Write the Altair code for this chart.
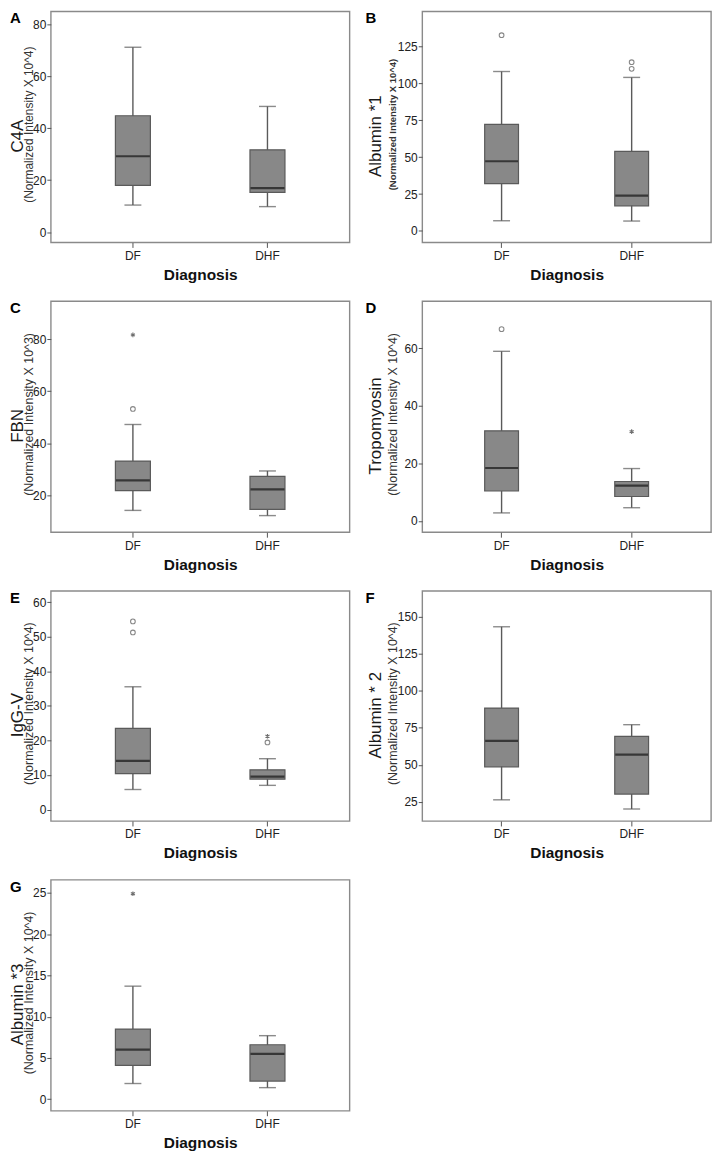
import altair as alt
import pandas as pd

FONT = "Liberation Sans"

# ---------------- data ----------------
groups = ["DF", "DHF"]
letters = ["A", "B", "C", "D", "E", "F", "G"]
protein_names = ["C4A", "Albumin *1", "FBN", "Tropomyosin", "IgG-V", "Albumin * 2", "Albumin *3"]
unit_labels = [
    "(Normalized Intensity X 10^4)",
    "(Normalized Intensity X 10^4)",
    "(Normalized Intensity X 10^3)",
    "(Normalized Intensity X 10^4)",
    "(Normalized Intensity X 10^4)",
    "(Normalized Intensity X 10^4)",
    "(Normalized Intensity X 10^4)",
]

# box statistics, per panel: [DF, DHF]
whisker_low = [[10.4, 9.8], [6.9, 6.7], [14.1, 12.1], [2.8, 4.6], [5.8, 7.0], [26.3, 20.1], [1.9, 1.4]]
quartile_1 = [[18.0, 15.3], [32.0, 17.0], [21.7, 14.5], [10.4, 8.5], [10.4, 8.8], [48.6, 30.2], [4.1, 2.2]]
medians = [[29.2, 16.9], [47.2, 23.9], [25.7, 22.2], [18.4, 12.3], [14.1, 9.5], [66.1, 56.9], [6.0, 5.5]]
quartile_3 = [[44.8, 31.7], [72.2, 53.9], [33.1, 27.2], [31.3, 13.7], [23.5, 11.5], [88.3, 69.2], [8.5, 6.6]]
whisker_high = [[71.2, 48.4], [108.0, 104.0], [47.2, 29.3], [58.9, 18.2], [35.5, 14.7], [143.3, 77.1], [13.7, 7.7]]

circle_outliers = [
    [],
    [("DF", 132.6), ("DHF", 114.3), ("DHF", 109.8)],
    [("DF", 53.2)],
    [("DF", 66.6)],
    [("DF", 54.4), ("DF", 51.2), ("DHF", 19.4)],
    [],
    [],
]
star_outliers = [
    [],
    [],
    [("DF", 81.7)],
    [("DHF", 31.0)],
    [("DHF", 21.2)],
    [],
    [("DF", 24.9)],
]

y_tick_values = [
    [0, 20, 40, 60, 80],
    [0, 25, 50, 75, 100, 125],
    [20, 40, 60, 80],
    [0, 20, 40, 60],
    [0, 10, 20, 30, 40, 50, 60],
    [25, 50, 75, 100, 125, 150],
    [0, 5, 10, 15, 20, 25],
]
y_domains = [
    [-4, 85],
    [-7.8, 148.7],
    [5.7, 94.7],
    [-3.9, 76.3],
    [-3.3, 63.2],
    [12, 167.5],
    [-1.4, 26.6],
]

# ---------------- layout / style ----------------
column_of = [0, 1, 0, 1, 0, 1, 0]
col_width = [300, 290]
panel_height = [232, 232, 232, 232, 231, 231, 232]
letter_x = [-41, -57]
title_x = [-33, -46]
sub_x = [-22, -29]
sub_size = [12, 9.5, 12.5, 12.5, 12.5, 12.5, 12.5]
sub_weight = ["normal", "bold", "normal", "normal", "normal", "normal", "normal"]

BOX_FILL = "#888888"
LINE = "#5a5a5a"
ASTERISK = "M0,-1L0,1M-0.87,-0.5L0.87,0.5M-0.87,0.5L0.87,-0.5"


def panel(i):
    c = column_of[i]
    w = col_width[c]
    h = panel_height[i]
    df = pd.DataFrame({
        "group": groups,
        "lo": whisker_low[i],
        "q1": quartile_1[i],
        "med": medians[i],
        "q3": quartile_3[i],
        "hi": whisker_high[i],
    })
    x_enc = alt.X(
        "group:N",
        sort=groups,
        scale=alt.Scale(paddingInner=0.74, paddingOuter=0.48),
        axis=alt.Axis(title="Diagnosis", labelAngle=0),
    )
    y_scale = alt.Scale(domain=y_domains[i], nice=False, zero=False)
    y_axis = alt.Axis(values=y_tick_values[i], title=None, grid=False)

    bw = w / 2.22 * 0.26

    whisk = alt.Chart(df).mark_rule(color=LINE, strokeWidth=1.4).encode(
        x=x_enc, y=alt.Y("lo:Q", scale=y_scale, axis=y_axis), y2="hi:Q"
    )
    box = alt.Chart(df).mark_bar(fill=BOX_FILL, stroke=LINE, strokeWidth=1.2).encode(
        x=x_enc, y=alt.Y("q1:Q", scale=y_scale, axis=y_axis), y2="q3:Q"
    )
    cap_lo = alt.Chart(df).mark_tick(orient="horizontal", size=17, thickness=1.4, color=LINE).encode(
        x=x_enc, y=alt.Y("lo:Q", scale=y_scale, axis=y_axis)
    )
    cap_hi = alt.Chart(df).mark_tick(orient="horizontal", size=17, thickness=1.4, color=LINE).encode(
        x=x_enc, y=alt.Y("hi:Q", scale=y_scale, axis=y_axis)
    )
    med = alt.Chart(df).mark_tick(orient="horizontal", size=bw - 1, thickness=2.2, color="#151515").encode(
        x=x_enc, y=alt.Y("med:Q", scale=y_scale, axis=y_axis)
    )
    layers = [whisk, box, cap_lo, cap_hi, med]

    if circle_outliers[i]:
        cdf = pd.DataFrame(circle_outliers[i], columns=["group", "value"])
        layers.append(
            alt.Chart(cdf).mark_point(shape="circle", filled=False, size=22, color="#555555", strokeWidth=1.1).encode(
                x=x_enc, y=alt.Y("value:Q", scale=y_scale, axis=y_axis)
            )
        )
    if star_outliers[i]:
        sdf = pd.DataFrame(star_outliers[i], columns=["group", "value"])
        layers.append(
            alt.Chart(sdf).mark_point(shape=ASTERISK, filled=False, size=22, color="#333333", strokeWidth=1.1).encode(
                x=x_enc, y=alt.Y("value:Q", scale=y_scale, axis=y_axis)
            )
        )

    letter = alt.Chart(pd.DataFrame({"t": [letters[i]]})).mark_text(
        font=FONT, fontSize=15, fontWeight="bold", align="left", baseline="top", color="#000000"
    ).encode(x=alt.value(letter_x[c]), y=alt.value(0), text="t:N")
    title = alt.Chart(pd.DataFrame({"t": [protein_names[i]]})).mark_text(
        font=FONT, fontSize=17, angle=270, align="center", baseline="middle", color="#1a1a1a"
    ).encode(x=alt.value(title_x[c]), y=alt.value(h * 0.54), text="t:N")
    sub = alt.Chart(pd.DataFrame({"t": [unit_labels[i]]})).mark_text(
        font=FONT, fontSize=sub_size[i], fontWeight=sub_weight[i], angle=270, align="center",
        baseline="middle", color="#333333"
    ).encode(x=alt.value(sub_x[c]), y=alt.value(h * 0.49), text="t:N")
    layers += [letter, title, sub]

    return alt.layer(*layers).properties(width=w, height=h)


panels = [panel(i) for i in range(len(letters))]

chart = (
    alt.concat(*panels, columns=2, spacing={"row": 16, "column": 14})
    .properties(align="each", padding=0, background="white")
    .configure_view(stroke="#8a8a8a", strokeWidth=1.4)
    .configure_axis(
        labelFont=FONT,
        labelFontSize=12,
        labelColor="#222222",
        tickColor="#555555",
        domain=False,
        titleFont=FONT,
    )
    .configure_axisY(tickSize=4, labelPadding=1)
    .configure_axisX(
        tickSize=5,
        labelPadding=3,
        titleFontSize=15.5,
        titleFontWeight="bold",
        titleColor="#111111",
        titlePadding=6,
    )
)

chart.save("out.html", embed_options={"renderer": "svg", "actions": False})
